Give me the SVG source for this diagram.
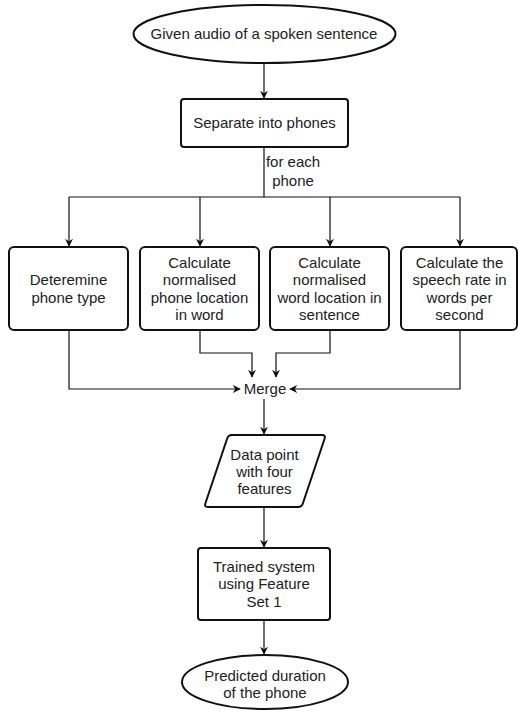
<svg xmlns="http://www.w3.org/2000/svg" width="518" height="711" viewBox="0 0 518 711">
<style>
.n{fill:#fff;stroke:#111;stroke-width:2}
.t{font-family:"Liberation Sans",Arial,sans-serif;font-size:15px;fill:#222;text-anchor:middle}
.c{fill:none;stroke:#111;stroke-width:1.2}
</style>
<defs>
<marker id="a" viewBox="0 0 10 10" refX="9" refY="5" markerWidth="8" markerHeight="8" markerUnits="userSpaceOnUse" orient="auto">
<path d="M0,0 L10,5 L0,10 L3,5 z" fill="#111"/>
</marker>
</defs>
<g id="connectors">
<path class="c" d="M264,63 V98" marker-end="url(#a)"/>
<path class="c" d="M264,147 V197"/>
<path class="c" d="M69,197 H460"/>
<path class="c" d="M69,197 V246" marker-end="url(#a)"/>
<path class="c" d="M200,197 V246" marker-end="url(#a)"/>
<path class="c" d="M330,197 V246" marker-end="url(#a)"/>
<path class="c" d="M460,197 V246" marker-end="url(#a)"/>
<path class="c" d="M69,330 V389 H240" marker-end="url(#a)"/>
<path class="c" d="M200,330 V353 H252 V377" marker-end="url(#a)"/>
<path class="c" d="M330,330 V353 H276 V377" marker-end="url(#a)"/>
<path class="c" d="M460,330 V389 H290" marker-end="url(#a)"/>
<path class="c" d="M264,399 V434" marker-end="url(#a)"/>
<path class="c" d="M264,507 V547" marker-end="url(#a)"/>
<path class="c" d="M264,620 V654" marker-end="url(#a)"/>
</g>
<g id="start">
<ellipse class="n" cx="264.5" cy="34" rx="131" ry="29"/>
<text class="t" x="264" y="39">Given audio of a spoken sentence</text>
</g>
<g id="separate">
<rect class="n" x="181" y="99" width="167" height="48" rx="3"/>
<text class="t" x="264.5" y="128">Separate into phones</text>
</g>
<g id="foreach">
<text class="t" x="293" y="167">for each</text>
<text class="t" x="293" y="186">phone</text>
</g>
<g id="type">
<rect class="n" x="9" y="247" width="119" height="83" rx="5"/>
<text class="t" x="68.5" y="285">Deteremine</text>
<text class="t" x="68.5" y="303">phone type</text>
</g>
<g id="phoneloc">
<rect class="n" x="140" y="247" width="119" height="83" rx="5"/>
<text class="t" x="199.5" y="268">Calculate</text>
<text class="t" x="199.5" y="285">normalised</text>
<text class="t" x="199.5" y="303">phone location</text>
<text class="t" x="199.5" y="320">in word</text>
</g>
<g id="wordloc">
<rect class="n" x="270" y="247" width="119" height="83" rx="5"/>
<text class="t" x="329.5" y="268">Calculate</text>
<text class="t" x="329.5" y="285">normalised</text>
<text class="t" x="329.5" y="303">word location in</text>
<text class="t" x="329.5" y="320">sentence</text>
</g>
<g id="rate">
<rect class="n" x="401" y="247" width="116" height="83" rx="5"/>
<text class="t" x="459.5" y="268">Calculate the</text>
<text class="t" x="459.5" y="285">speech rate in</text>
<text class="t" x="459.5" y="303">words per</text>
<text class="t" x="459.5" y="320">second</text>
</g>
<g id="merge">
<text class="t" x="265" y="394">Merge</text>
</g>
<g id="datapoint">
<path class="n" d="M230,435 H322 Q326,435 324.5,439 L303,503 Q302,507 298,507 H208 Q204,507 205.5,503 L227,439 Q228,435 232,435 Z"/>
<text class="t" x="264.5" y="460">Data point</text>
<text class="t" x="264.5" y="477">with four</text>
<text class="t" x="264.5" y="494">features</text>
</g>
<g id="trained">
<rect class="n" x="198" y="548" width="132" height="72" rx="3"/>
<text class="t" x="264" y="572">Trained system</text>
<text class="t" x="264" y="589">using Feature</text>
<text class="t" x="264" y="607">Set 1</text>
</g>
<g id="end">
<ellipse class="n" cx="265" cy="682" rx="83" ry="27"/>
<text class="t" x="265" y="681">Predicted duration</text>
<text class="t" x="265" y="698">of the phone</text>
</g>
</svg>
